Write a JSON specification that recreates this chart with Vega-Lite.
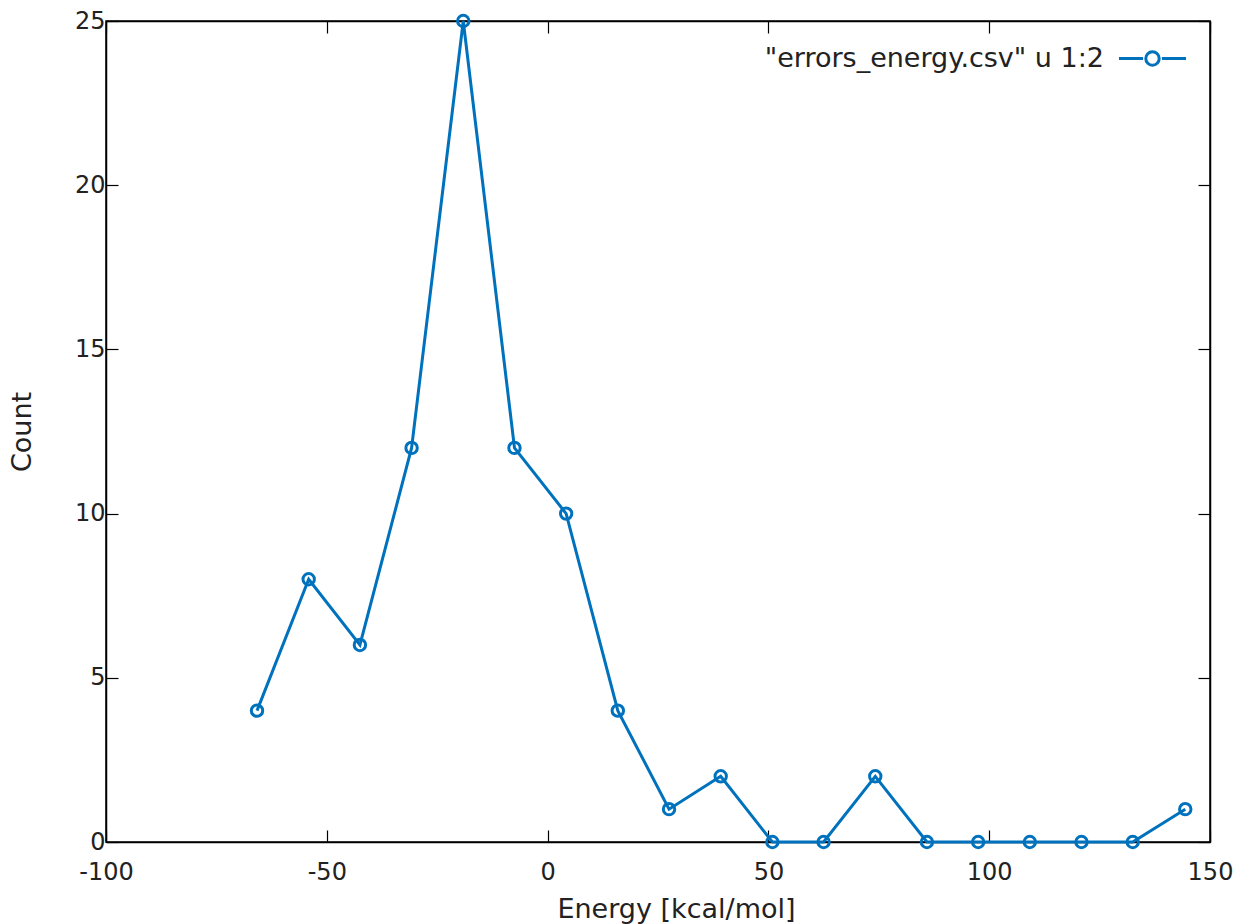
{
  "$schema": "https://vega.github.io/schema/vega-lite/v6.json",
  "width": 1104,
  "height": 821,
  "autosize": {"type": "none"},
  "padding": {"left": 106, "top": 21, "right": 31, "bottom": 82},
  "background": "white",
  "config": {
    "font": "DejaVu Sans",
    "view": {"stroke": "black", "strokeWidth": 1.5},
    "axis": {
      "domainColor": "black", "domainWidth": 1.5,
      "tickColor": "black", "tickWidth": 1.2, "tickSize": -12,
      "labelColor": "#222222", "labelFont": "DejaVu Sans", "labelFontSize": 24, "labelFlush": false,
      "titleColor": "#222222", "titleFont": "DejaVu Sans", "titleFontSize": 27, "titleFontWeight": "normal",
      "grid": false
    }
  },
  "data": {"values": [
    {"energy": -65.8, "count": 4, "series": "\"errors_energy.csv\" u 1:2"},
    {"energy": -54.1, "count": 8, "series": "\"errors_energy.csv\" u 1:2"},
    {"energy": -42.5, "count": 6, "series": "\"errors_energy.csv\" u 1:2"},
    {"energy": -30.8, "count": 12, "series": "\"errors_energy.csv\" u 1:2"},
    {"energy": -19.1, "count": 25, "series": "\"errors_energy.csv\" u 1:2"},
    {"energy": -7.5, "count": 12, "series": "\"errors_energy.csv\" u 1:2"},
    {"energy": 4.2, "count": 10, "series": "\"errors_energy.csv\" u 1:2"},
    {"energy": 15.9, "count": 4, "series": "\"errors_energy.csv\" u 1:2"},
    {"energy": 27.5, "count": 1, "series": "\"errors_energy.csv\" u 1:2"},
    {"energy": 39.2, "count": 2, "series": "\"errors_energy.csv\" u 1:2"},
    {"energy": 50.9, "count": 0, "series": "\"errors_energy.csv\" u 1:2"},
    {"energy": 62.5, "count": 0, "series": "\"errors_energy.csv\" u 1:2"},
    {"energy": 74.2, "count": 2, "series": "\"errors_energy.csv\" u 1:2"},
    {"energy": 85.9, "count": 0, "series": "\"errors_energy.csv\" u 1:2"},
    {"energy": 97.5, "count": 0, "series": "\"errors_energy.csv\" u 1:2"},
    {"energy": 109.2, "count": 0, "series": "\"errors_energy.csv\" u 1:2"},
    {"energy": 120.9, "count": 0, "series": "\"errors_energy.csv\" u 1:2"},
    {"energy": 132.5, "count": 0, "series": "\"errors_energy.csv\" u 1:2"},
    {"energy": 144.4, "count": 1, "series": "\"errors_energy.csv\" u 1:2"}
  ]},
  "layer": [
    {
      "mark": {"type": "line", "strokeWidth": 3, "clip": false},
      "encoding": {
        "x": {"field": "energy", "type": "quantitative",
              "scale": {"domain": [-100, 150], "nice": false, "zero": false},
              "axis": {"orient": "bottom", "title": "Energy [kcal/mol]", "values": [-100, -50, 0, 50, 100, 150],
                       "labelExpr": "replace(datum.label, '\u2212', '-')", "labelFlush": false,
                       "labelFontSize": 24, "labelPadding": 30, "titlePadding": 12, "titleFontSize": 27, "titleX": 570}},
        "y": {"field": "count", "type": "quantitative",
              "scale": {"domain": [0, 25], "nice": false},
              "axis": {"orient": "left", "title": "Count", "values": [0, 5, 10, 15, 20, 25], "labelFlush": false,
                       "labelFontSize": 24, "labelPadding": 13, "titlePadding": 38, "titleFontSize": 27}},
        "color": {"field": "series", "type": "nominal",
                  "scale": {"range": ["#0072bd"]},
                  "legend": {
                    "title": null, "orient": "none", "legendX": 1011, "legendY": 2,
                    "symbolType": "M-1,0H-0.28M0.28,0H1M0.2,0A0.2,0.2 0 1,1 -0.2,0A0.2,0.2 0 1,1 0.2,0",
                    "symbolSize": 4500, "symbolStrokeWidth": 3, "symbolFillColor": "transparent", "symbolStrokeColor": "#0072bd",
                    "labelAlign": "right", "labelOffset": -84, "labelFontSize": 27, "labelColor": "#222222", "labelFont": "DejaVu Sans",
                    "labelLimit": 600
                  }}
      }
    },
    {
      "mark": {"type": "point", "shape": "circle", "size": 130, "strokeWidth": 3, "filled": false, "opacity": 1, "clip": false},
      "encoding": {
        "x": {"field": "energy", "type": "quantitative",
              "axis": {"orient": "top", "title": null, "labels": false, "values": [-100, -50, 0, 50, 100, 150]}},
        "y": {"field": "count", "type": "quantitative",
              "axis": {"orient": "right", "title": null, "labels": false, "values": [0, 5, 10, 15, 20, 25]}},
        "color": {"field": "series", "type": "nominal"}
      }
    }
  ],
  "resolve": {"axis": {"x": "independent", "y": "independent"}}
}
